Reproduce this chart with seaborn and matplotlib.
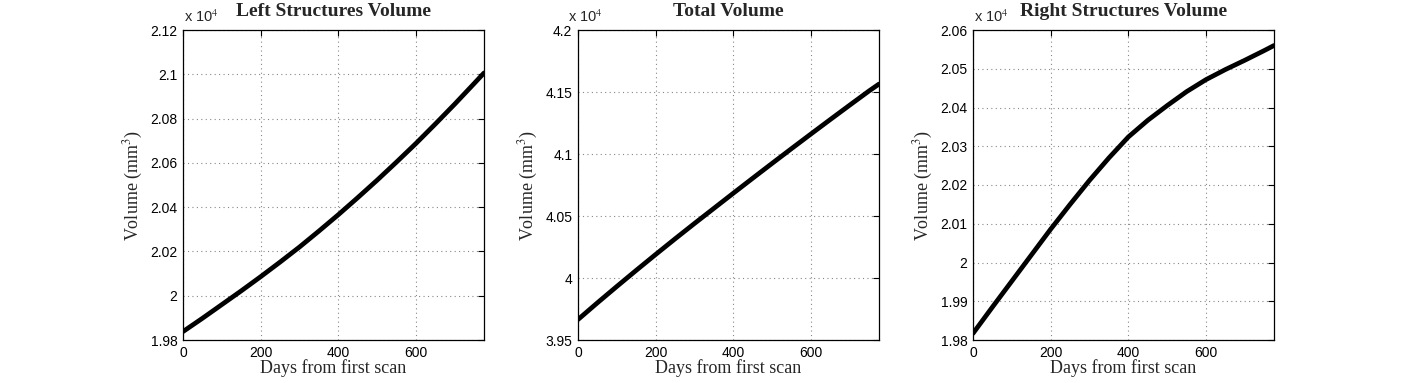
import matplotlib
matplotlib.use("Agg")
import matplotlib.pyplot as plt
import matplotlib.ticker as mticker
import seaborn as sns
import pandas as pd

# days since first scan
days = [0, 50, 100, 150, 200, 250, 300, 350, 400, 450, 500, 550, 600, 650, 700, 750, 775]

# volumes in mm^3 (axes show x 10^4)
left_vol = [19838, 19898, 19960, 20022, 20086, 20152, 20220, 20292, 20366,
            20443, 20522, 20604, 20688, 20776, 20866, 20959, 21006]
total_vol = [39665, 39800, 39932, 40062, 40190, 40316, 40440, 40562, 40684,
             40805, 40925, 41044, 41162, 41279, 41395, 41510, 41564]
right_vol = [19817, 19885, 19952, 20019, 20086, 20150, 20212, 20270, 20324,
             20367, 20405, 20441, 20472, 20498, 20522, 20547, 20560]

titles = ["Left Structures Volume", "Total Volume", "Right Structures Volume"]
ylims = [(19800, 21200), (39500, 42000), (19800, 20600)]
ytick_steps = [200, 500, 100]
xticks = [0, 200, 400, 600]

sns.set_style("white")
plt.rcParams["font.family"] = ["Liberation Sans", "DejaVu Sans"]
plt.rcParams["mathtext.fontset"] = "stix"

fig = plt.figure(figsize=(14.08, 3.83), dpi=100)
lefts = [183, 578, 973]
axes = [fig.add_axes([l / 1408, 43 / 383, 301 / 1408, 310 / 383]) for l in lefts]
# where the "x 10^4" note starts, in axes fraction
exp_x = [0.003, -0.033, 0.003]

serif = ["Liberation Serif", "DejaVu Serif"]
for ax, vol, title, ylim, step, ex in zip(axes, [left_vol, total_vol, right_vol], titles,
                                          ylims, ytick_steps, exp_x):
    df = pd.DataFrame({"Days": days, "Volume": vol})
    sns.lineplot(data=df, x="Days", y="Volume", ax=ax, color="black", linewidth=3.4)
    ax.set_xlim(0, 775)
    ax.set_ylim(*ylim)
    ax.set_xticks(xticks)
    ax.yaxis.set_major_locator(mticker.MultipleLocator(step))
    ax.yaxis.set_major_formatter(mticker.FuncFormatter(lambda v, p: f"{v / 1e4:g}"))
    ax.grid(True, linestyle=(0, (1, 3)), color="#888888", linewidth=0.8)
    ax.tick_params(direction="in", top=True, right=True, length=4, width=0.8,
                   labelsize=10, pad=4, colors="black")
    for s in ax.spines.values():
        s.set_color("black")
        s.set_linewidth(0.9)
    ax.set_title(title, fontsize=14, fontweight="bold", family=serif, pad=10)
    ax.set_xlabel("Days from first scan", fontsize=13, family=serif, labelpad=0)
    ax.set_ylabel("Volume (mm$^3$)", fontsize=13, family=serif, labelpad=4)
    ax.text(ex, 1.026, "x 10$^4$", transform=ax.transAxes, fontsize=10.5,
            ha="left", va="baseline")

fig.savefig("out.png", dpi=100, facecolor="white")
